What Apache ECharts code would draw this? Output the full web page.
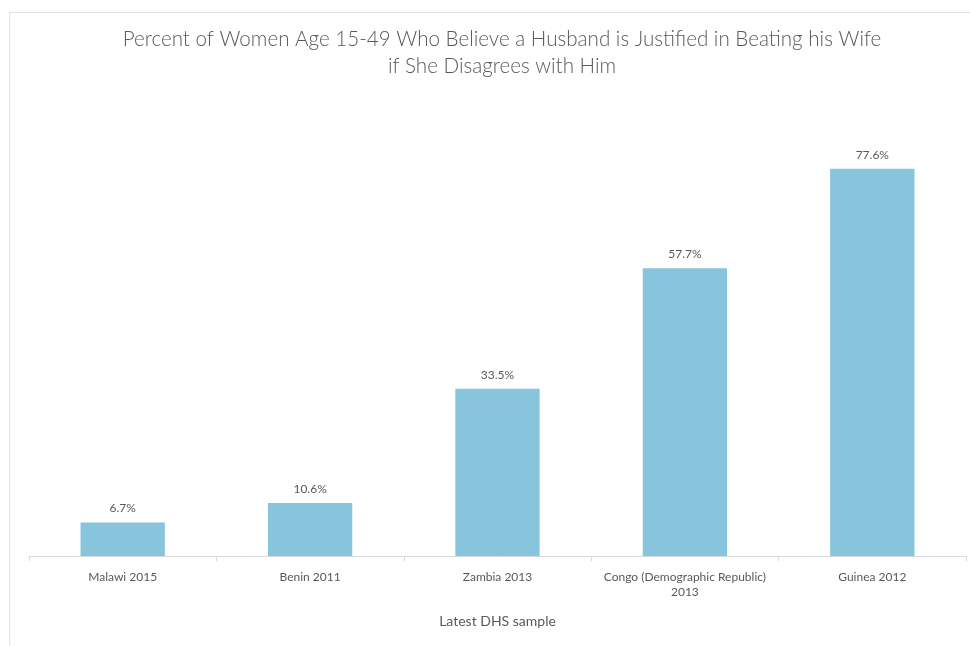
<!DOCTYPE html>
<html>
<head>
<meta charset="utf-8">
<script src="https://cdn.jsdelivr.net/npm/echarts@6/dist/echarts.min.js"></script>
<style>
  html, body { margin: 0; padding: 0; background: #ffffff; }
  #chart { width: 970px; height: 646px; }
</style>
</head>
<body>
<div id="chart"></div>
<script>
// Survey samples (country + DHS year) and share of women agreeing, in percent
const categories = ['Malawi 2015', 'Benin 2011', 'Zambia 2013', 'Congo (Demographic Republic) 2013', 'Guinea 2012'];
const values = [6.7, 10.6, 33.5, 57.7, 77.6];

const titleText = 'Percent of Women Age 15-49 Who Believe a Husband is Justified in Beating his Wife\nif She Disagrees with Him';
const xAxisTitle = 'Latest DHS sample';

const textColor = '#595959';
const barColor = '#87c5dc';
const fontFamily = 'Lato, "Open Sans", sans-serif';

const chart = echarts.init(document.getElementById('chart'));
chart.setOption({
  backgroundColor: '#ffffff',
  animation: false,
  textStyle: { fontFamily: fontFamily },
  graphic: [
    {
      // light frame around the chart area
      type: 'rect',
      shape: { x: 9.5, y: 12.5, width: 980, height: 700 },
      style: { fill: 'none', stroke: '#e3e3e3', lineWidth: 1 },
      silent: true
    },
    {
      // two-line chart title, centred over the framed area
      type: 'text',
      x: 502,
      y: 26,
      silent: true,
      style: {
        text: titleText,
        align: 'center',
        verticalAlign: 'top',
        fontFamily: fontFamily,
        fontSize: 20.6,
        fontWeight: 300,
        lineHeight: 27,
        fill: textColor
      }
    }
  ],
  grid: { left: 29, right: 4, top: 107, bottom: 90, containLabel: false },
  xAxis: {
    type: 'category',
    data: categories,
    name: xAxisTitle,
    nameLocation: 'middle',
    nameGap: 58,
    nameTextStyle: { fontFamily: fontFamily, fontSize: 14, color: textColor },
    axisLine: { show: true, lineStyle: { color: '#d9d9d9', width: 1 } },
    axisTick: { show: true, length: 5, lineStyle: { color: '#d9d9d9' } },
    axisLabel: {
      interval: 0,
      color: textColor,
      fontSize: 12,
      margin: 14,
      lineHeight: 15,
      formatter: function (v) { return v.replace(') ', ')\n'); }
    }
  },
  yAxis: {
    type: 'value',
    min: 0,
    max: 90,
    show: false,
    splitLine: { show: false }
  },
  series: [{
    type: 'bar',
    data: values,
    barWidth: '45%',
    itemStyle: { color: barColor },
    label: {
      show: true,
      position: 'top',
      distance: 8,
      color: textColor,
      fontSize: 12,
      formatter: function (p) { return p.value.toFixed(1) + '%'; }
    }
  }]
});
</script>
</body>
</html>
